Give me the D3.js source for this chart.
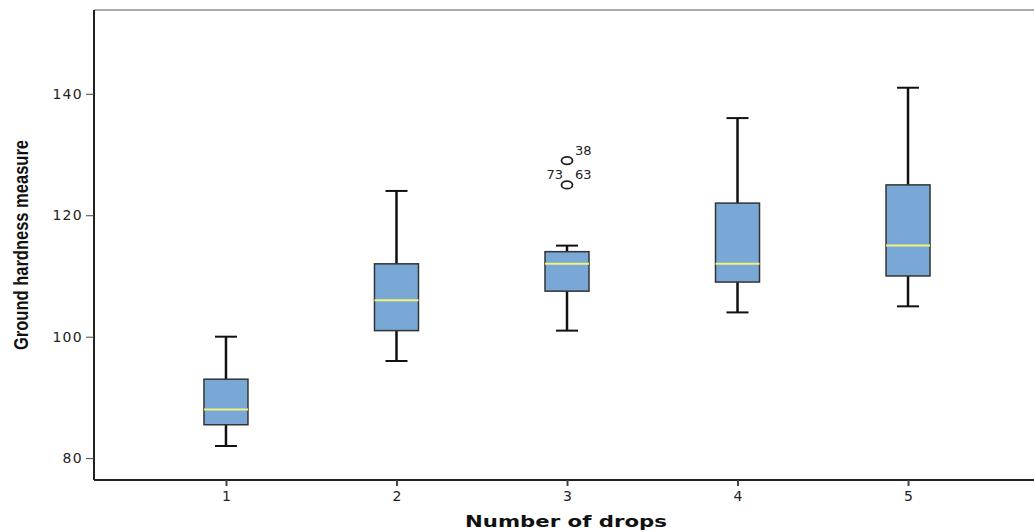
<!DOCTYPE html>
<html>
<head>
<meta charset="utf-8">
<script src="https://cdn.jsdelivr.net/npm/d3@7"></script>
<style>
  body { margin: 0; background: #fff; }
  svg { display: block; }
</style>
</head>
<body>
<div class="chart"></div>
<script>
// categories and five-number summaries
var drops = ['1', '2', '3', '4', '5'];
var whiskerLow  = [82, 96, 101, 104, 105];
var q1          = [85.5, 101, 107.5, 109, 110];
var median      = [88, 106, 112, 112, 115];
var q3          = [93, 112, 114, 122, 125];
var whiskerHigh = [100, 124, 115, 136, 141];

// outliers: group, value, case labels
var outlierGroup = ['3', '3'];
var outlierValue = [129, 125];
var outlierCases = [['38'], ['73', '63']];

var yTicks = [80, 100, 120, 140];

var svg = d3.select('.chart')
  .append('svg')
  .attr('width', 1034)
  .attr('height', 532);

var plotL = 94, plotT = 10, plotB = 480, plotR = 1040;

var x = d3.scalePoint().domain(drops).range([plotL, plotR]).padding(0.774);
var y = d3.scaleLinear().domain([76.4, 153.8]).range([plotB, plotT]);

// frame
svg.append('line').attr('x1', plotL).attr('x2', 1034).attr('y1', plotT).attr('y2', plotT)
  .style('stroke', '#8c8c8c').style('stroke-width', 1.5);

// y axis
var yAxis = svg.append('g').attr('transform', 'translate(' + plotL + ',0)')
  .call(d3.axisLeft(y).tickValues(yTicks).tickSize(8).tickPadding(3).tickSizeOuter(0));
yAxis.select('.domain').attr('d', 'M0,' + plotT + 'V' + plotB).style('stroke', '#222').style('stroke-width', 2);
yAxis.selectAll('.tick line').style('stroke', '#444').style('stroke-width', 1);
yAxis.selectAll('.tick text').style('font-family', 'DejaVu Sans, sans-serif').style('font-size', '14px')
  .style('letter-spacing', '1.3px').style('fill', '#222');

// x axis
var xAxis = svg.append('g').attr('transform', 'translate(0,' + plotB + ')')
  .call(d3.axisBottom(x).tickSize(6).tickPadding(5).tickSizeOuter(0));
xAxis.select('.domain').attr('d', 'M' + plotL + ',0H1034').style('stroke', '#222').style('stroke-width', 2);
xAxis.selectAll('.tick line').style('stroke', '#444').style('stroke-width', 2);
xAxis.selectAll('.tick text').style('font-family', 'DejaVu Sans, sans-serif').style('font-size', '14px').style('fill', '#222');

// axis titles
svg.append('text')
  .attr('transform', 'translate(28,245) rotate(-90)')
  .attr('text-anchor', 'middle')
  .attr('textLength', 210).attr('lengthAdjust', 'spacingAndGlyphs')
  .style('font-family', 'Liberation Sans Narrow, Liberation Sans, sans-serif')
  .style('font-weight', 'bold').style('font-size', '21px').style('fill', '#111')
  .text('Ground hardness measure');

svg.append('text')
  .attr('x', 566).attr('y', 527)
  .attr('text-anchor', 'middle')
  .attr('textLength', 202).attr('lengthAdjust', 'spacingAndGlyphs')
  .style('font-family', 'DejaVu Sans, sans-serif')
  .style('font-weight', 'bold').style('font-size', '16px').style('fill', '#111')
  .text('Number of drops');

// boxes
var boxW = 44, capW = 22;
var g = svg.append('g');
drops.forEach(function (d, i) {
  var cx = x(d);
  g.append('line').attr('x1', cx).attr('x2', cx).attr('y1', y(whiskerHigh[i])).attr('y2', y(q3[i]))
    .style('stroke', '#111').style('stroke-width', 2.5);
  g.append('line').attr('x1', cx).attr('x2', cx).attr('y1', y(q1[i])).attr('y2', y(whiskerLow[i]))
    .style('stroke', '#111').style('stroke-width', 2.5);
  g.append('line').attr('x1', cx - capW / 2).attr('x2', cx + capW / 2).attr('y1', y(whiskerHigh[i])).attr('y2', y(whiskerHigh[i]))
    .style('stroke', '#111').style('stroke-width', 2);
  g.append('line').attr('x1', cx - capW / 2).attr('x2', cx + capW / 2).attr('y1', y(whiskerLow[i])).attr('y2', y(whiskerLow[i]))
    .style('stroke', '#111').style('stroke-width', 2);
  g.append('rect').attr('x', cx - boxW / 2).attr('y', y(q3[i]))
    .attr('width', boxW).attr('height', y(q1[i]) - y(q3[i]))
    .style('fill', '#79a8d6').style('stroke', '#333').style('stroke-width', 1.5);
  g.append('line').attr('x1', cx - boxW / 2).attr('x2', cx + boxW / 2).attr('y1', y(median[i])).attr('y2', y(median[i]))
    .style('stroke', '#f2f27a').style('stroke-width', 2);
});

// outliers
var labelStyle = function (t) {
  t.style('font-family', 'DejaVu Sans, sans-serif').style('font-size', '13px').style('fill', '#222');
};
outlierValue.forEach(function (v, i) {
  var cx = x(outlierGroup[i]), cy = y(v);
  g.append('ellipse').attr('cx', cx).attr('cy', cy).attr('rx', 5.5).attr('ry', 3.8)
    .style('fill', 'none').style('stroke', '#222').style('stroke-width', 1.8);
  var cases = outlierCases[i];
  if (cases.length === 1) {
    g.append('text').attr('x', cx + 8).attr('y', cy - 6).text(cases[0]).call(labelStyle);
  } else {
    g.append('text').attr('x', cx - 4).attr('y', cy - 6).attr('text-anchor', 'end').text(cases[0]).call(labelStyle);
    g.append('text').attr('x', cx + 8).attr('y', cy - 6).text(cases[1]).call(labelStyle);
  }
});
</script>
</body>
</html>
